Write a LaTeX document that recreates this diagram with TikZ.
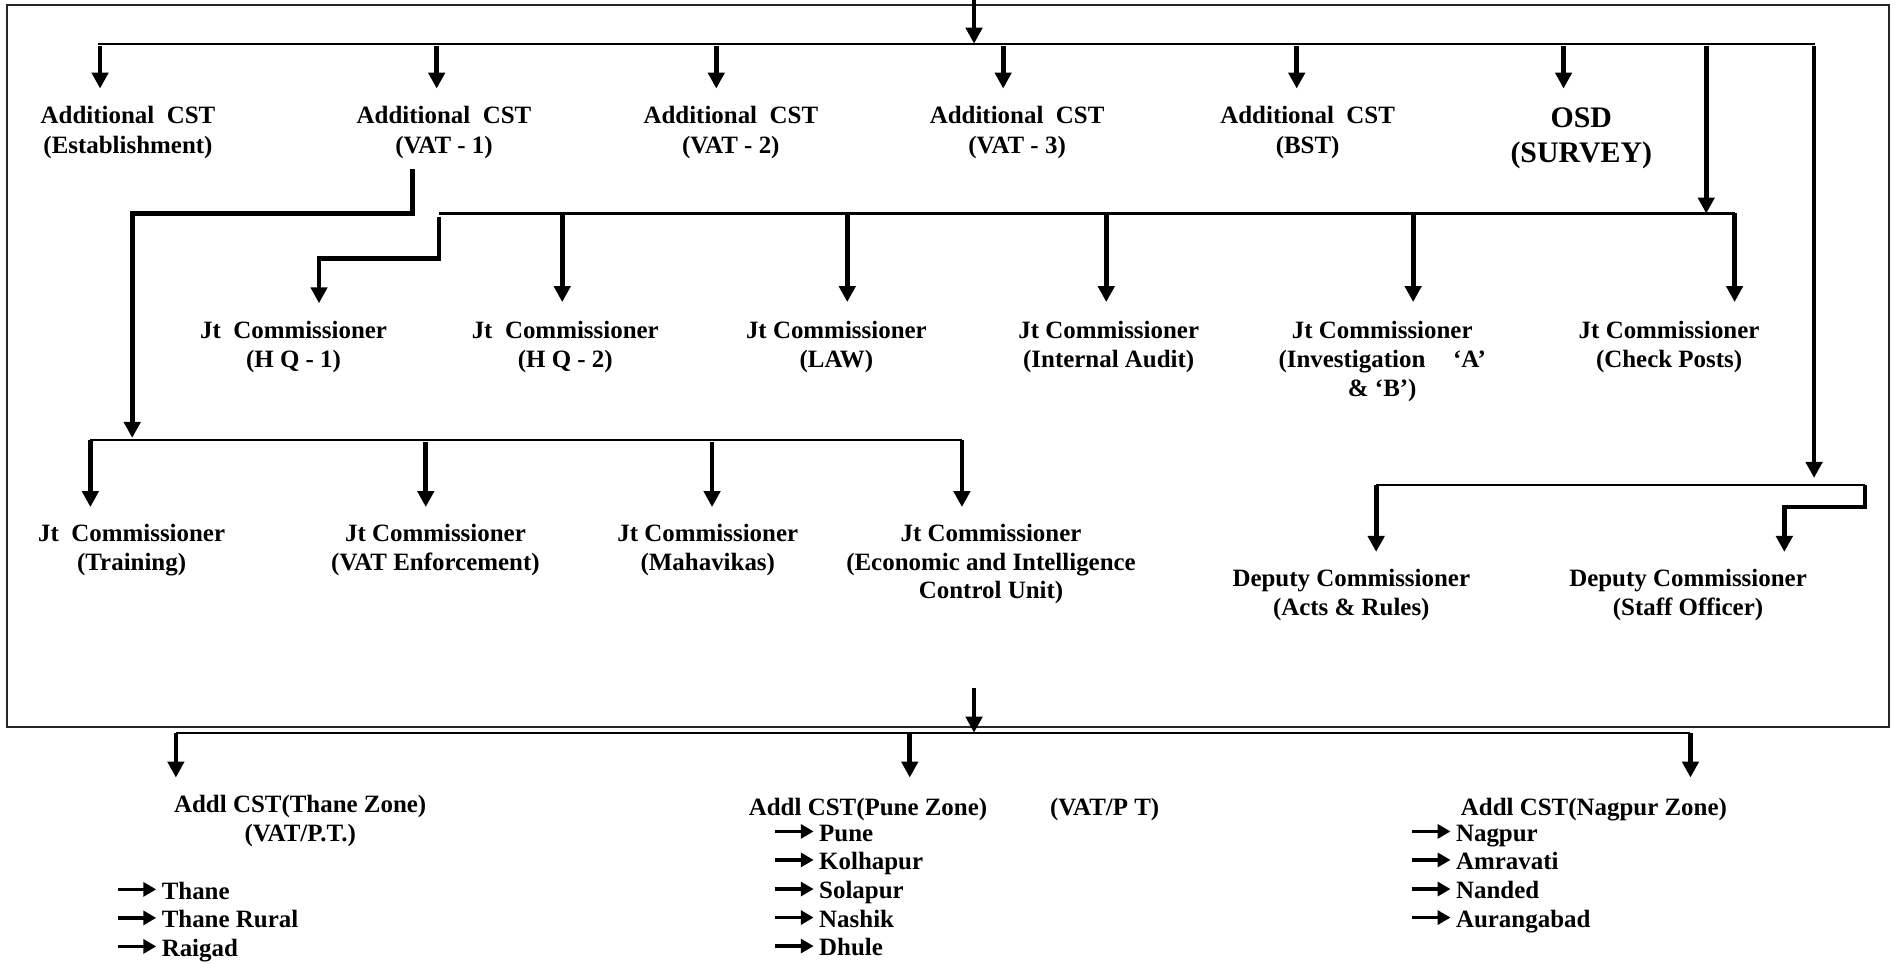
\documentclass[tikz,border=0pt]{standalone}
\usepackage{fontspec}
\setmainfont{Liberation Serif}
\usetikzlibrary{arrows.meta}
\begin{document}
\begin{tikzpicture}[x=0.02cm,y=-0.02cm,
  lbl/.style={font=\fontsize{11.7}{13.6}\selectfont\bfseries, align=center, inner sep=0pt, anchor=north, execute at begin node=\strut},
  lblA/.style={lbl, font=\fontsize{11.7}{14}\selectfont\bfseries},
  lblO/.style={lbl, font=\fontsize{14}{16.4}\selectfont\bfseries},
  itm/.style={font=\fontsize{11.7}{13.6}\selectfont\bfseries, inner sep=0pt, anchor=base west},
  bus/.style={line width=1pt},
  arr/.style={line width=2.2pt, line join=miter, -{Triangle[width=7.6pt,length=7.5pt]}},
  bul/.style={line width=1.5pt, -{Triangle[width=6.5pt,length=6pt]}},
  frame/.style={line width=1pt, draw=black!85}]
\useasboundingbox (0,0) rectangle (1568,794);

% outer frame
\coordinate (fr1) at (6,4);
\coordinate (fr2) at (1557,599);
\draw[frame] (fr1) rectangle (fr2);

% ---------- level 1 labels ----------
\node[lblA] (est)  at (105.5,87.4) {Additional\ \ CST\\(Establishment)};
\node[lblA] (vat1) at (366,87.4)   {Additional\ \ CST\\(VAT - 1)};
\node[lblA] (vat2) at (602.5,87.4) {Additional\ \ CST\\(VAT - 2)};
\node[lblA] (vat3) at (838.5,87.4) {Additional\ \ CST\\(VAT - 3)};
\node[lblA] (bst)  at (1078,87.4)  {Additional\ \ CST\\(BST)};
\node[lblO] (osd)  at (1303.6,88.5) {OSD\\(SURVEY)};

% ---------- level 2 labels ----------
\node[lbl] (hq1)   at (242,264.4)    {Jt\ \ Commissioner\\(H Q - 1)};
\node[lbl] (hq2)   at (466,264.4)    {Jt\ \ Commissioner\\(H Q - 2)};
\node[lbl] (law)   at (689.5,264.4)  {Jt Commissioner\\(LAW)};
\node[lbl] (audit) at (914,264.4)    {Jt Commissioner\\(Internal Audit)};
\node[lbl] (inv)   at (1139.5,264.4) {Jt Commissioner\\(Investigation\hspace{13pt}‘A’\\\& ‘B’)};
\node[lbl] (chk)   at (1376,264.4)   {Jt Commissioner\\(Check Posts)};

% ---------- level 3 labels ----------
\node[lbl] (train)  at (108.5,431.4) {Jt\ \ Commissioner\\(Training)};
\node[lbl] (vatenf) at (359,431.4)   {Jt Commissioner\\(VAT Enforcement)};
\node[lbl] (maha)   at (583.5,431.4) {Jt Commissioner\\(Mahavikas)};
\node[lbl] (eco)    at (817,431.4)   {Jt Commissioner\\(Economic and Intelligence\\Control Unit)};

% ---------- deputy commissioners ----------
\node[lbl] (acts)  at (1114,468.5)   {Deputy Commissioner\\(Acts \& Rules)};
\node[lbl] (staff) at (1391.6,468.5) {Deputy Commissioner\\(Staff Officer)};

% ---------- zones ----------
\node[lbl] (thz) at (247.5,655.5) {Addl CST(Thane Zone)\\(VAT/P.T.)};
\node[lbl, anchor=north west] (pnz) at (617,655.5) {Addl CST(Pune Zone)\hspace{29.5pt}(VAT/P T)};
\node[lbl] (ngz) at (1314,655.5) {Addl CST(Nagpur Zone)};

\node[itm] (i1) at (133,741.3) {Thane};
\node[itm] (i2) at (133,764.8) {Thane Rural};
\node[itm] (i3) at (133,788.3) {Raigad};
\node[itm] (p1) at (675,693.5) {Pune};
\node[itm] (p2) at (675,717)   {Kolhapur};
\node[itm] (p3) at (675,741)   {Solapur};
\node[itm] (p4) at (675,764.5) {Nashik};
\node[itm] (p5) at (675,788)   {Dhule};
\node[itm] (n1) at (1200,693.5) {Nagpur};
\node[itm] (n2) at (1200,717)   {Amravati};
\node[itm] (n3) at (1200,741)   {Nanded};
\node[itm] (n4) at (1200,764.5) {Aurangabad};
\foreach \n in {i1,i2,i3,p1,p2,p3,p4,p5,n1,n2,n3,n4}
  \draw[bul] ([xshift=-20.4pt,yshift=4.6pt]\n.base west) -- ([xshift=-2.4pt,yshift=4.6pt]\n.base west);

% ---------- top bus ----------
\coordinate (inTop) at (803,0);
\coordinate (b1L) at (81,36);
\coordinate (b1R) at (1496,36);
\coordinate (b1s) at (803,37.8);
\draw[bus] (b1L) -- (b1R);
\draw[arr] (inTop) -- (inTop |- b1L);

\coordinate (tEst)  at (82.5,73);
\coordinate (tV1)   at (360,73);
\coordinate (tV2)   at (590.5,73);
\coordinate (tV3)   at (827,73);
\coordinate (tBst)  at (1069,73);
\coordinate (tOsd)  at (1289,73);
\coordinate (tSurv) at (1406.6,176);
\coordinate (tDep)  at (1495.5,394);
\foreach \t in {tEst,tV1,tV2,tV3,tBst,tOsd,tSurv,tDep}
  \draw[arr] (\t |- b1s) -- (\t);

% ---------- VAT-1 elbow to training bus ----------
\coordinate (v1a) at (340,139.6);
\coordinate (v1b) at (340,176);
\coordinate (v1c) at (109,176);
\coordinate (tTr) at (109,361);
\draw[arr] (v1a) -- (v1b) -- (v1c) -- (tTr);

% ---------- second bus (Jt Commissioners) ----------
\coordinate (b2L) at (362,176);
\coordinate (b2R) at (1430,176);
\coordinate (b2s) at (800,177.5);
\draw[bus] (b2L) -- (b2R);
\coordinate (h1a) at (362,178.5);
\coordinate (h1b) at (362,213);
\coordinate (h1c) at (263,213);
\coordinate (tHq1) at (263,250);
\draw[arr] (h1a) -- (h1b) -- (h1c) -- (tHq1);
\coordinate (tHq2)  at (463.5,249);
\coordinate (tLaw)  at (698.5,249);
\coordinate (tAud)  at (912,249);
\coordinate (tInv)  at (1165,249);
\coordinate (tChk)  at (1430,249);
\foreach \t in {tHq2,tLaw,tAud,tInv}
  \draw[arr] (\t |- b2s) -- (\t);
\draw[arr] (b2R) -- (tChk);

% ---------- third bus ----------
\coordinate (b3L) at (74.5,363);
\coordinate (b3R) at (793,363);
\coordinate (b3s) at (400,364.5);
\draw[bus] (b3L) -- (b3R);
\coordinate (tTrn) at (74.5,418);
\coordinate (tVe)  at (351,418);
\coordinate (tMh)  at (587,418);
\coordinate (tEc)  at (793,418);
\draw[arr] (b3L) -- (tTrn);
\draw[arr] (b3R) -- (tEc);
\foreach \t in {tVe,tMh}
  \draw[arr] (\t |- b3s) -- (\t);

% ---------- deputy bus ----------
\coordinate (bdL) at (1134.5,400);
\coordinate (bdR) at (1537.5,400);
\draw[bus] (bdL) -- (bdR);
\coordinate (tActs) at (1134.5,455);
\draw[arr] (bdL) -- (tActs);
\coordinate (sfa) at (1537.5,418);
\coordinate (sfb) at (1471,418);
\coordinate (tStaff) at (1471,455);
\draw[arr] (bdR) -- (sfa) -- (sfb) -- (tStaff);

% ---------- bottom: zones ----------
\coordinate (botIn) at (803,567);
\coordinate (b4L) at (145,604);
\coordinate (b4R) at (1393.6,604);
\coordinate (b4s) at (750,605);
\draw[arr] (botIn) -- (botIn |- b4L);
\draw[bus] (b4L) -- (b4R);
\coordinate (tTz) at (145,641);
\coordinate (tPz) at (750,641);
\coordinate (tNz) at (1393.6,641);
\draw[arr] (b4L) -- (tTz);
\draw[arr] (tPz |- b4s) -- (tPz);
\draw[arr] (b4R) -- (tNz);
\end{tikzpicture}
\end{document}
